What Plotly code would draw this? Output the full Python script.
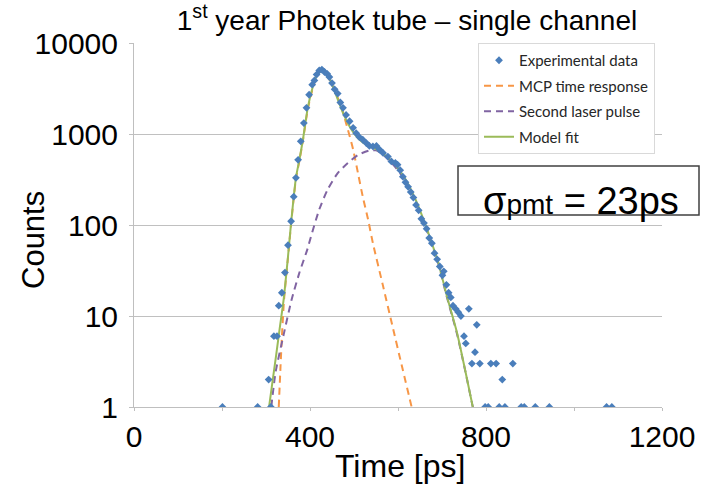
import plotly.graph_objects as go

# ---- Experimental data (time in ps, counts) ----
data_t = [201, 281, 306, 311, 318, 325, 329, 336, 343, 350, 357, 363, 368, 373, 379,
          386, 392, 398, 405, 410, 415, 421, 427, 433, 439, 444, 450, 456, 463, 469,
          475, 482, 490, 498, 505, 512, 520, 528, 535, 543, 551, 558, 566, 577, 585,
          594, 599, 605, 611, 617, 623, 629, 635, 641, 647, 653, 659, 665, 671, 677,
          683, 689, 695, 701, 704, 710, 715, 720, 725, 731, 737, 743, 750, 754, 761,
          768, 775, 779, 786, 798, 805, 811, 823, 830, 837, 843, 861, 880, 887, 912,
          944, 1074, 1086]
data_counts = [1, 1, 2, 1, 6, 6, 13, 18, 30, 60, 110, 205, 330, 520, 830,
               1320, 1940, 2700, 3480, 3880, 4500, 5000, 5100, 4800, 4580, 4230, 3630, 3100, 2780, 2220,
               1940, 1620, 1380, 1170, 1020, 925, 865, 795, 740, 730, 740, 675, 620, 565, 500,
               480, 460, 400, 340, 295, 263, 230, 200, 166, 145, 117, 105, 91, 72, 63,
               49, 42, 35, 28, 31, 22, 18, 16, 13, 12, 11, 10, 6, 5, 12,
               3, 4, 8, 3, 1, 1, 3, 3, 1, 2, 1, 3, 1, 1, 1,
               1, 1, 1]

# ---- MCP time response ----
mcp_t = [329, 333, 337, 341, 350, 357, 368, 376, 384, 395, 407, 417, 425, 433, 440,
         455, 471, 486, 498, 509, 520, 532, 543, 565, 587, 609, 631, 640]
mcp_counts = [1, 2.8, 7.1, 15, 44, 102, 320, 510, 850, 1880, 3280, 4450, 4950, 4850, 4330,
              3090, 2000, 1120, 676, 372, 204, 115, 63, 22.4, 7.9, 2.8, 1, 0.66]

# ---- Second laser pulse (dashed purple curve) ----
laser_t = [312, 322, 340, 358, 376, 394, 402, 421, 440, 463, 486, 509, 536, 550, 565,
           590, 615, 638, 661, 677, 692, 711, 734, 752, 770, 778]
laser_counts = [1, 2.45, 6.2, 15, 30, 54, 74, 148, 245, 372, 479, 589, 661, 661, 600,
                455, 315, 194, 101, 61, 37, 16.2, 6.4, 2.6, 1, 0.66]

# ---- Model fit (solid green curve) ----
fit_t = [307, 314, 323, 331, 340, 350, 357, 368, 376, 384, 395, 407, 417, 425, 433,
         440, 448, 456, 464, 478, 494, 510, 525, 540, 555, 570, 592, 615, 638, 661,
         677, 692, 711, 734, 752, 770, 778]
fit_counts = [1, 1.78, 3.7, 7.2, 15, 45, 105, 330, 525, 870, 1950, 3390, 4570, 5130, 5010,
              4470, 3720, 2950, 2340, 1580, 1120, 890, 776, 716, 661, 589, 468, 331, 200, 105,
              63, 38, 16.6, 6.6, 2.63, 1, 0.66]

x_tickvals = [0, 400, 800, 1200]
x_ticktext = ["0", "400", "800", "1200"]
y_tickvals = [1, 10, 100, 1000, 10000]
y_ticktext = ["1", "10", "100", "1000", "10000"]

W, H = 711, 490
L, R, T, B = 134, 49, 43, 83
pw, ph = W - L - R, H - T - B


def px_x(p):
    return (p - L) / pw


def px_y(p):
    return (H - B - p) / ph


fig = go.Figure()

fig.add_trace(go.Scatter(
    x=mcp_t, y=mcp_counts, mode="lines", name="MCP time response",
    line=dict(color="#F79646", width=2, dash="7px,5px", shape="spline", smoothing=0.6),
    legendrank=2, legendgroup="g2"))
fig.add_trace(go.Scatter(
    x=laser_t, y=laser_counts, mode="lines", name="Second laser pulse",
    line=dict(color="#8064A2", width=2, dash="7px,5px", shape="spline", smoothing=0.6),
    legendrank=3, legendgroup="g3"))
fig.add_trace(go.Scatter(
    x=fit_t, y=fit_counts, mode="lines", name="Model fit",
    line=dict(color="#9BBB59", width=2, shape="spline", smoothing=0.6),
    legendrank=4, legendgroup="g4"))
fig.add_trace(go.Scatter(
    x=data_t, y=data_counts, mode="markers", name="Experimental data",
    marker=dict(symbol="diamond", size=6, color="#4A7EBB"),
    legendrank=1, legendgroup="g1"))

fig.update_layout(
    width=W, height=H,
    margin=dict(l=L, r=R, t=T, b=B),
    paper_bgcolor="white", plot_bgcolor="white",
    font=dict(family="Liberation Sans, Arial, sans-serif", color="black"),
    showlegend=True,
    legend=dict(
        x=px_x(478), y=1.0, xanchor="left", yanchor="top",
        bgcolor="white", bordercolor="#d9d9d9", borderwidth=1,
        font=dict(family="Lato, sans-serif", size=15, color="#262626"),
        tracegroupgap=3, itemwidth=30,
    ),
    title=dict(
        text="1<sup>st</sup> year Photek tube – single channel",
        x=407 / W, xref="container", xanchor="center",
        y=1 - 20 / H, yref="container", yanchor="middle",
        font=dict(size=28, family="Liberation Sans, Arial, sans-serif", color="black"),
    ),
    xaxis=dict(
        range=[0, 1200], tickvals=x_tickvals, ticktext=x_ticktext,
        showgrid=False, zeroline=False,
        showline=True, linecolor="#bfbfbf", linewidth=1,
        ticks="outside", ticklen=3, tickcolor="#bfbfbf",
        minor=dict(dtick=200, ticks="outside", ticklen=3, tickcolor="#bfbfbf", showgrid=False),
        tickfont=dict(size=30), ticklabelstandoff=0,
    ),
    yaxis=dict(
        type="log", range=[0, 4], tickvals=y_tickvals, ticktext=y_ticktext,
        showgrid=True, gridcolor="#c0c0c0", gridwidth=1,
        showline=True, linecolor="#bfbfbf", linewidth=1,
        ticks="outside", ticklen=4, tickcolor="#bfbfbf",
        tickfont=dict(size=30), ticklabelstandoff=5,
    ),
    annotations=[
        dict(text="Counts", textangle=-90, xref="paper", yref="paper",
             x=px_x(33), y=px_y(240), xanchor="center", yanchor="middle",
             showarrow=False, font=dict(size=31)),
        dict(text="Time [ps]", xref="paper", yref="paper",
             x=px_x(400), y=px_y(466), xanchor="center", yanchor="middle",
             showarrow=False, font=dict(size=32)),
        dict(text="σ<span style='font-size:28px'>pmt</span> = 23ps",
             xref="paper", yref="paper",
             x=px_x(581), y=px_y(201), xanchor="center", yanchor="middle",
             showarrow=False, font=dict(size=38)),
    ],
    shapes=[
        dict(type="rect", xref="paper", yref="paper",
             x0=px_x(458), x1=px_x(699), y0=px_y(215), y1=px_y(166),
             line=dict(color="#404040", width=1.5), fillcolor="rgba(0,0,0,0)",
             layer="above"),
    ],
)

fig.write_html("out.html")
